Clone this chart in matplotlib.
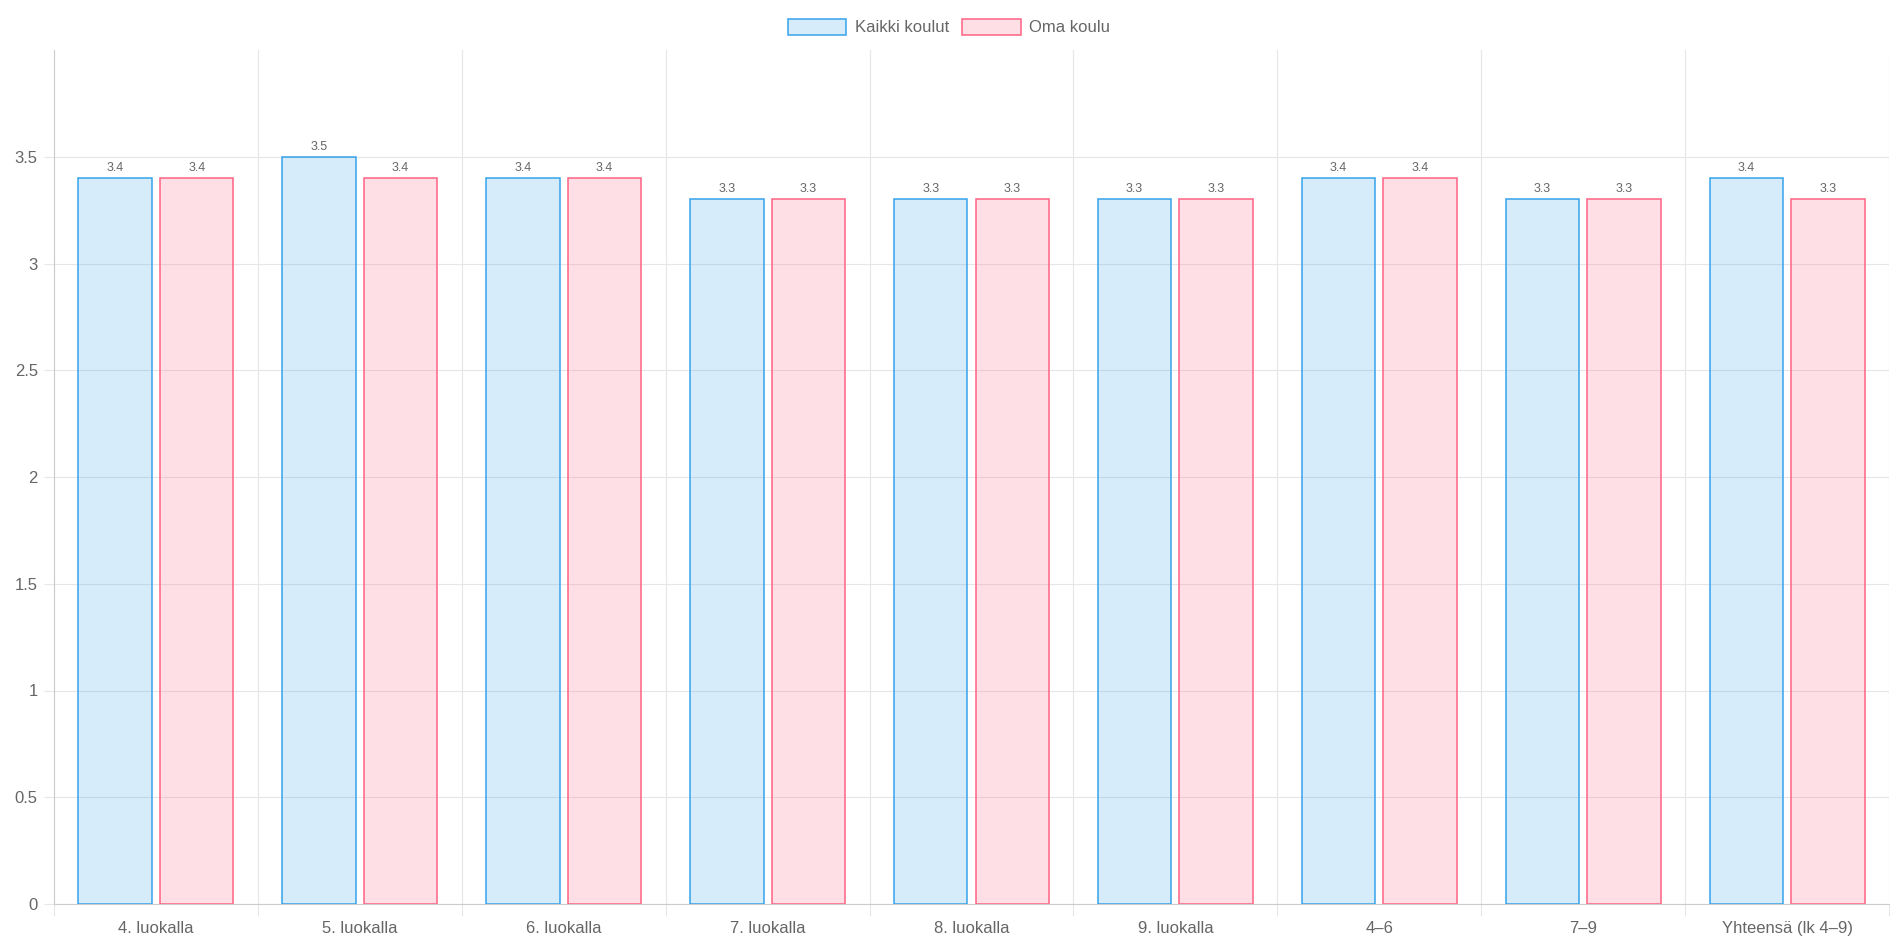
import matplotlib
matplotlib.use("Agg")
import matplotlib.pyplot as plt
from matplotlib.patches import Patch
import numpy as np

plt.rcParams["font.family"] = ["Liberation Sans", "DejaVu Sans"]

# categories and values
categories = [
    "4. luokalla",
    "5. luokalla",
    "6. luokalla",
    "7. luokalla",
    "8. luokalla",
    "9. luokalla",
    "4\u20136",
    "7\u20139",
    "Yhteensä (lk 4\u20139)",
]
kaikki_koulut = [3.4, 3.5, 3.4, 3.3, 3.3, 3.3, 3.4, 3.3, 3.4]
oma_koulu = [3.4, 3.4, 3.4, 3.3, 3.3, 3.3, 3.4, 3.3, 3.3]
series_names = ["Kaikki koulut", "Oma koulu"]

y_ticks = [0, 0.5, 1, 1.5, 2, 2.5, 3, 3.5]
y_ticklabels = ["0", "0.5", "1", "1.5", "2", "2.5", "3", "3.5"]

blue_edge = (54 / 255, 162 / 255, 235 / 255)
blue_fill = (54 / 255, 162 / 255, 235 / 255, 0.2)
pink_edge = (255 / 255, 99 / 255, 132 / 255)
pink_fill = (255 / 255, 99 / 255, 132 / 255, 0.2)
text_col = "#666666"
grid_col = "#e6e6e6"

fig = plt.figure(figsize=(18.98, 9.39), dpi=100)
ax = fig.add_axes([54 / 1898, 1 - 904 / 939, (1889 - 54) / 1898, (904 - 50) / 939])

x = np.arange(len(categories))
slot = 0.8 / 2
width = slot * 0.9

b1 = ax.bar(x - slot / 2, kaikki_koulut, width, color=blue_fill, edgecolor=blue_edge,
            linewidth=1.1, zorder=3)
b2 = ax.bar(x + slot / 2, oma_koulu, width, color=pink_fill, edgecolor=pink_edge,
            linewidth=1.1, zorder=3)

for bars, vals in ((b1, kaikki_koulut), (b2, oma_koulu)):
    for rect, v in zip(bars, vals):
        ax.annotate(f"{v:.1f}", (rect.get_x() + rect.get_width() / 2, v),
                    xytext=(0, 3), textcoords="offset points",
                    ha="center", va="bottom", fontsize=9, color=text_col)

ax.set_xlim(-0.5, len(categories) - 0.5)
ax.set_ylim(0, 4)

ax.set_xticks(x)
ax.set_xticklabels(categories, fontsize=12, color=text_col)
ax.set_xticks(np.arange(len(categories) + 1) - 0.5, minor=True)
ax.tick_params(axis="x", which="major", length=0, pad=12)
ax.tick_params(axis="x", which="minor", length=8.6, color=grid_col, width=0.8)
ax.grid(axis="x", which="minor", color=grid_col, linewidth=0.8, zorder=0)

ax.set_yticks(y_ticks)
ax.set_yticklabels(y_ticklabels, fontsize=12, color=text_col)
ax.tick_params(axis="y", length=7.2, color=grid_col, width=0.8, pad=4.5)
ax.grid(axis="y", which="major", color=grid_col, linewidth=0.8, zorder=0)

for s in ("top", "right"):
    ax.spines[s].set_visible(False)
for s in ("left", "bottom"):
    ax.spines[s].set_color("#cccccc")
    ax.spines[s].set_linewidth(0.8)

handles = [
    Patch(facecolor=blue_fill, edgecolor=blue_edge, linewidth=1.1),
    Patch(facecolor=pink_fill, edgecolor=pink_edge, linewidth=1.1),
]
leg = fig.legend(handles, series_names, loc="center", bbox_to_anchor=(0.5, 1 - 27 / 939),
                 ncol=2, frameon=False, fontsize=12, handlelength=3.5, handleheight=1.1,
                 handletextpad=0.5, columnspacing=0.8, borderaxespad=0, borderpad=0)
for t in leg.get_texts():
    t.set_color(text_col)

fig.savefig("out.png", dpi=100)
